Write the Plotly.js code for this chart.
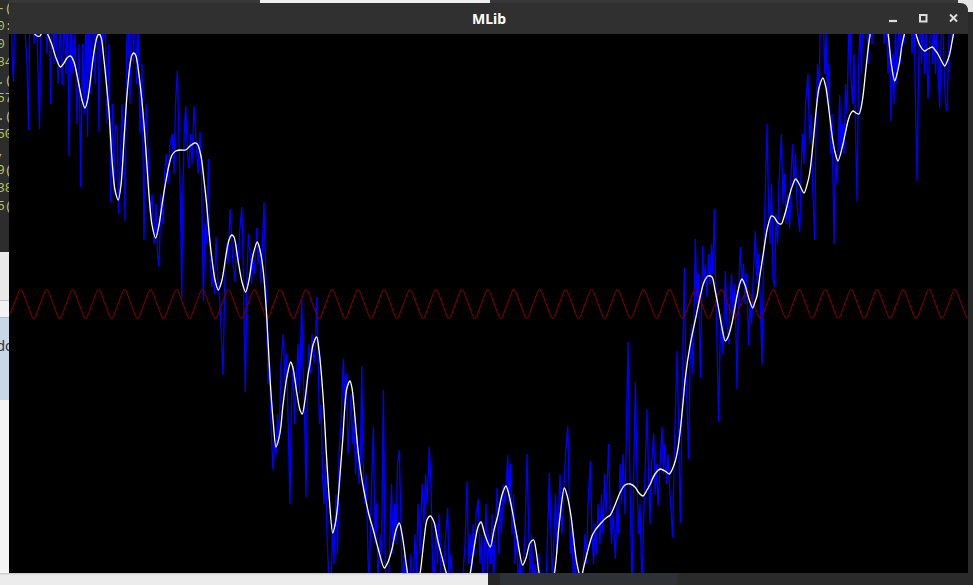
<!DOCTYPE html>
<html><head><meta charset="utf-8">
<script src="https://cdn.plot.ly/plotly-3.0.1.min.js"></script>
<style>html,body{margin:0;padding:0;background:#2a2a2a;overflow:hidden}#chart{width:973px;height:585px}</style>
</head><body><div id="chart"></div>
<script>
// ---- data (sample index, signal value) ----
const whiteX=[9,20,30,34,37,40,43,46,48,52,56,60.5,64,67,70.5,74,78,82,85,88,91,94,97,99,101,104,107,109,112,115,118.3,121,124,127,130,132,134,136,139,142.3,145.7,149,152,155.7,159,162,165.7,169,172,175.7,180,185.7,190,194.5,197.3,201,204,206.7,209,211.7,215,218.3,222,226,229,231.7,234,238,242,245.7,249,253,257.3,260,263.3,266.7,270,273.3,276,280,283,286.7,290.7,293,296.7,300,302.3,305,308,310,313,316.7,319,321.7,324,326,329.3,332.7,335,337.3,340,342.7,346.7,350,352,354,357,359.3,362,365,369,373.3,378,384.3,388,392,396,399.3,403,407.7,412,416,420,424,427,430.3,434,437.7,442,446,452,458,464,470,474,478,481,485,490.3,494,497.7,502,506,509,512.7,517,522.7,526,530,533.7,536,539.3,544,549,554.3,559.3,564.3,567,571,576,579.3,581,584,588.7,592,595.3,602,606,610.3,615,620.3,625,630.3,635,639,643,647,650.3,655,660.3,665,669.3,672,675.3,678,680.3,683,685.3,690.3,695.3,700.3,704,708,712,715,718.7,722,725.3,728,732,737,740,742,745,747,750,752.7,755,757,760,763.7,767,771.3,774,778,781.3,784,786.3,791.3,795.7,799.7,804,807,809.7,813,816.3,819,823,826,828,832.3,835,838,843,848,851,853,856,859,862.3,865.7,868,870.3,874,879,884,888,891.3,894.7,897,899.7,902,904.7,908,912,915.7,919.7,924.7,928,932.3,935,938,941,944.7,947,949.7,952,953.7,958,962,968];
const whiteY=[304,314,284,271,268,268,273,273,269,259,246,237,241,246,248,242,224,204,196,206,229,252,267,270,267,244,214,192,144,114,104,119,164,209,239,249,251,248,229,199,157,109,79,66,79,99,122,139,149,153,154,154,158,161,160,148,124,99,72,47,24,14,24,49,64,69,67,44,22,12,24,49,62,54,33,-12,-74,-119,-143,-129,-101,-74,-58,-64,-88,-106,-110,-96,-71,-60,-41,-33,-46,-74,-106,-143,-195,-229,-221,-205,-171,-136,-85,-77,-84,-102,-136,-157,-176,-192,-211,-226,-244,-264,-258,-245,-226,-219,-236,-270,-286,-286,-270,-236,-216,-212,-218,-236,-253,-268,-286,-294,-286,-270,-244,-223,-218,-231,-243,-226,-212,-191,-182,-191,-209,-233,-261,-254,-239,-236,-246,-270,-286,-286,-270,-219,-184,-191,-212,-254,-270,-274,-262,-243,-232,-226,-218,-214,-211,-201,-188,-181,-180,-183,-189,-192,-186,-180,-170,-165,-167,-170,-166,-157,-144,-126,-99,-74,-40,-16,8,22,28,27,14,-5,-24,-37,-33,-19,8,21,25,19,12,2,-4,2,8,29,53,74,88,87,81,80,87,95,115,125,119,111,119,131,160,195,216,226,216,202,167,152,143,160,183,191,193,191,190,203,233,254,271,294,304,294,271,240,223,230,243,259,271,284,286,271,259,253,255,257,254,250,244,238,242,250,262,271,289,299,304];

const blueSamples=[[9,300],[10.5,330],[12,250],[13.5,222],[15,320],[17,290],[19,330],[21,270],[23,310],[25,280],[27,240],[28.5,174],[30,300],[32,330],[34,260],[36,310],[38,230],[39.5,175],[41,320],[43,280],[45,330],[47,250],[49,300],[50.7,200],[52.5,320],[54,240],[56,300],[58,220],[60,280],[62.3,219],[64,290],[66,230],[67.5,300],[69,148],[71,290],[73,230],[75,270],[77,180],[79,260],[80.7,117],[82.5,260],[84,190],[86,300],[87.5,167],[89,320],[91,210],[93,330],[95,220],[97,320],[99,172],[101,330],[103,250],[105,300],[107,180],[109,260],[110.7,102],[112.5,200],[114,110],[115.5,180],[117.3,172],[118.5,90],[120,150],[122,200],[123.5,160],[125,83],[126.5,250],[128,300],[130,200],[132,320],[133.5,240],[135,330],[136.5,220],[138,280],[140,170],[142,240],[144,64],[146,200],[148.3,147],[150,90],[152,110],[154,60],[156,100],[157.5,50],[159,37],[161,110],[163,80],[164.5,130],[166.3,150],[168,120],[170,160],[172.3,170],[174,130],[175.5,200],[177.3,233],[179,160],[180.5,100],[181.7,5],[183,120],[184.5,180],[185.7,198],[187.5,150],[189,136],[190.5,170],[192,140],[194,198],[196,160],[198,130],[200,172],[201.5,130],[203.3,3],[205,80],[206.5,60],[208.3,145],[210,50],[211.7,17],[213,30],[214.5,10],[216,67],[218,20],[220,0],[221.5,-40],[223,-71],[225,30],[226.5,60],[228,40],[230,95],[231.5,70],[233,40],[235,22],[236.5,60],[238,40],[239.5,70],[241.7,97],[243,50],[245.3,-88],[247,30],[248.5,70],[250,53],[251.5,20],[253,50],[254.5,30],[256.7,76],[258,40],[259.5,60],[261,20],[262.5,60],[264,102],[265.5,40],[266.7,-30],[268,-80],[269.5,-60],[271,-120],[273,-166],[274.5,-140],[276,-150],[277.5,-110],[279,-140],[281,-60],[283.3,-30],[285,-80],[286.5,-50],[288,-110],[290,-200],[291.5,-100],[293,-60],[294.5,-120],[296,-80],[298,-40],[299.5,-90],[301.7,5],[303,-60],[304.5,-110],[306,-193],[307.5,-80],[309,-40],[310.5,-70],[312,-30],[314,-60],[315.5,-40],[316.7,7],[318,-50],[319.5,-120],[321,-100],[322.5,-170],[324,-200],[325.5,-160],[327,-230],[329,-280],[331,-290],[332.5,-220],[334,-260],[336,-190],[337.5,-250],[339,-150],[341,-120],[343.3,-55],[345,-100],[346.5,-70],[348,-150],[349.5,-110],[351,-90],[352.5,-140],[354,-110],[355.5,-170],[357,-130],[359,-180],[360.5,-150],[361.7,-62],[363,-150],[364.5,-200],[366,-170],[367.5,-230],[369,-290],[371,-200],[373.3,-123],[375,-240],[376.5,-200],[378,-280],[380,-230],[381.5,-260],[383.3,-86],[385,-250],[386.5,-290],[388.3,-290],[390,-220],[391.5,-180],
[393,-250],[394.5,-200],[396,-240],[397.5,-160],[399.3,-146],[401,-220],[402.5,-290],[404,-250],[405.5,-290],[407,-260],[409,-290],[411,-250],[413,-290],[415,-230],[416.5,-270],[418,-200],[420,-250],[422,-180],[424,-220],[425.5,-170],[427,-200],[429.3,-143],[431,-180],[432.5,-260],[434,-290],[436,-220],[437.5,-260],[439,-210],[441,-270],[443,-290],[445,-240],[447.7,-204],[449,-280],[451,-250],[453,-290],[455,-270],[457,-290],[459,-280],[461,-300],[463,-270],[465,-240],[467,-178],[468.5,-260],[470,-230],[471.5,-270],[473,-220],[474.5,-250],[476,-210],[478.3,-195],[480,-260],[481.5,-230],[483,-290],[484.5,-240],[486,-200],[487.5,-270],[489,-230],[490.5,-260],[492,-210],[493.5,-280],[495,-230],[497,-184],[498.5,-250],[500,-200],[501.5,-230],[503,-180],[505,-200],[507.7,-151],[509,-200],[510.5,-160],[512,-230],[513.5,-190],[515,-260],[517,-230],[518.5,-290],[520,-250],[521.5,-290],[523,-270],[525,-230],[527,-150],[528.5,-220],[530,-270],[531.5,-230],[533,-290],[535,-260],[537,-290],[539,-250],[541,-290],[543,-270],[545,-300],[547,-250],[549.3,-169],[551,-230],[552.5,-280],[554,-230],[555.5,-190],[557,-250],[558.5,-200],[560,-170],[562,-230],[564,-190],[565.5,-150],[567.7,-122],[569,-180],[570.5,-250],[572,-220],[573.5,-290],[575,-250],[577,-290],[579,-270],[581,-300],
[583,-270],[585,-230],[586.5,-260],[588,-200],[590.3,-157],[592,-230],[593.5,-260],[595,-220],[596.5,-250],[598,-200],[600,-240],[601.5,-190],[603,-230],[604.5,-170],[606,-210],[608.7,-140],[610,-200],[611.5,-240],[613,-210],[615.3,-255],[617,-200],[618.5,-230],[620,-160],[621.5,-200],[623,-150],[625,-210],[626.5,-120],[628,-38],[629.5,-150],[630.5,-200],[632,-290],[633.5,-180],[635.3,-78],[637,-170],[638.5,-230],[640,-200],[642,-290],[643.5,-220],[645,-160],[647,-105],[648.5,-170],[650,-220],[651.5,-160],[653.7,-130],[655,-190],[656.5,-160],[658,-202],[660,-160],[662,-123],[663.5,-170],[665,-140],[666.5,-180],[668,-150],[670,-190],[672.7,-233],[674,-160],[675.5,-110],[677,-47],[678.5,-120],[680.3,-219],[682,-100],[684.3,36],[685.5,-50],[687,-100],[688.7,-155],[690,-60],[691.5,-20],[693,-70],[695.3,65],[697,0],[698.5,30],[700.3,-74],[701.5,10],[702.7,58],[704,20],[705.5,40],[707,7],[708.5,50],[710,20],[711.5,60],[712.8,30],[714.3,95],[715.5,30],[717,-40],[718.7,-118],[720,-40],[721.5,-10],[723,-50],[725.3,33],[727,-20],[728.7,-40],[730,0],[731.5,30],[733,-10],[735,20],[737,-85],[738.5,10],[740.3,57],[742,20],[743.5,40],[745,0],[746.5,30],[748.7,-41],[750,0],[751.5,-20],[753,20],[755.3,73],[757,20],[758.5,50],[760,10],[762,-61],[763.5,40],[765,110],[767,180],[768.5,100],[770,60],[771.5,120],[773,26],
[774.7,17],[776,90],[777.5,60],[779,120],[781.3,170],[783,100],[784.5,130],[786,80],[787.5,110],[789.7,76],[791,130],[792.5,160],[794,120],[795.5,150],[797,100],[799.7,72],[801,130],[802.5,170],[804,140],[805.5,200],[808,230],[809.5,160],[811,190],[812.5,120],[814.7,64],[816,180],[817.5,240],[819,210],[820.5,300],[823,320],[824.5,230],[826,270],[827.5,200],[829,240],[830.5,150],[832,190],[834,60],[835.5,150],[837,120],[839.7,209],[841,150],[842.5,180],[844,150],[845.5,220],[847,190],[849.7,320],[851,230],[852.5,200],[854,250],[855.5,180],[857,103],[858.5,230],[860,280],[861.5,230],[863,300],[864.7,300],[866,320],[868,240],[870,330],[872,260],[874,330],[876,270],[878,330],[880,290],[882,330],[884,260],[886,300],[888,230],[889.5,270],[891,183],[892.5,250],[894,200],[895.5,280],[897,220],[899,300],[900.5,240],[902,320],[904,260],[906,320],[908,270],[910,330],[912,250],[914,300],[915.5,200],[917,123],[918.5,230],[920,300],[921.5,240],[923,290],[924.5,230],[926,280],[928,205],[929.5,260],[931,300],[932.5,240],[934,280],[935.5,230],[937,280],[938.5,220],[939.7,196],[941,260],[942.5,300],[944,240],[945.5,200],[947,193],[948.5,240],[950,300],[951.5,260],[953,320],[955,270],[957,330],[959,280],[961,320],[963,270],[965,330],[968,300]];

// reference tone, sampled every quarter period
const sineY=[-14.5,0,14.5,0,-14.5,0,14.5,0,-14.5,0,14.5,0,-14.5,0,14.5,0,-14.5,0,14.5,0,-14.5,0,14.5,0,-14.5,0,14.5,0,-14.5,0,14.5,0,-14.5,0,14.5,0,-14.5,0,14.5,0,-14.5,0,14.5,0,-14.5,0,14.5,0,-14.5,0,14.5,0,-14.5,0,14.5,0,-14.5,0,14.5,0,-14.5,0,14.5,0,-14.5,0,14.5,0,-14.5,0,14.5,0,-14.5,0,14.5,0,-14.5,0,14.5,0,-14.5,0,14.5,0,-14.5,0,14.5,0,-14.5,0,14.5,0,-14.5,0,14.5,0,-14.5,0,14.5,0,-14.5,0,14.5,0,-14.5,0,14.5,0,-14.5,0,14.5,0,-14.5,0,14.5,0,-14.5,0,14.5,0,-14.5,0,14.5,0,-14.5,0,14.5,0,-14.5,0,14.5,0,-14.5,0,14.5,0,-14.5,0,14.5,0,-14.5,0,14.5,0,-14.5,0,14.5,0,-14.5,0,14.5,0,-14.5];
const sineStart=7.725, sineStep=6.4875;

// background terminal fragments
const termText=["-(","0:","0","84",".(","57",".(","50",",","9(","38","5("];
const termRows=[9,27,45,63,81,99,117,135,153,171,189,207];

// ---- build ----
const W=973,H=585;
const X=px=>px/W, Y=py=>1-py/H;
const blueX=blueSamples.map(p=>p[0]), blueY=blueSamples.map(p=>p[1]);
const sineX=sineY.map((_,i)=>sineStart+i*sineStep);

function rect(x0,y0,x1,y1,color,layer){
  return {type:'rect',xref:'paper',yref:'paper',x0:X(x0),x1:X(x1),y0:Y(y1),y1:Y(y0),
          fillcolor:color,line:{width:0},layer:layer||'below'};
}
function seg(x0,y0,x1,y1,color,w){
  return {type:'line',xref:'paper',yref:'paper',x0:X(x0),y0:Y(y0),x1:X(x1),y1:Y(y1),
          line:{color:color,width:w},layer:'above'};
}
const tb={l:9,r:968,t:3,b:34,rad:8};
const tbPath='M '+X(tb.l)+','+Y(tb.b)+' L '+X(tb.l)+','+Y(tb.t+tb.rad)+
  ' Q '+X(tb.l)+','+Y(tb.t)+' '+X(tb.l+tb.rad)+','+Y(tb.t)+
  ' L '+X(tb.r-tb.rad)+','+Y(tb.t)+' Q '+X(tb.r)+','+Y(tb.t)+' '+X(tb.r)+','+Y(tb.t+tb.rad)+
  ' L '+X(tb.r)+','+Y(tb.b)+' Z';

const shapes=[
  rect(0,0,260,3,'#383838'), rect(260,0,490,3,'#efefef'), rect(490,0,958,3,'#383838'), rect(958,0,973,12,'#e4e4e4'),
  rect(0,0,9,252,'#2d2d2d'),
  rect(0,252,9,300,'#e9e9e9'), rect(0,300,9,301,'#c4c4c4'), rect(0,301,9,317,'#f2f2f2'),
  rect(0,317,9,400,'#c7d7e7'), rect(0,317,9,318,'#a9bccf'), rect(0,400,9,573,'#f4f4f4'),
  rect(0,573,488,585,'#ececec'), rect(0,573,488,574.5,'#cfcfcf'),
  rect(488,573,500,585,'#262626'), rect(500,573,678,585,'#2e3136'), rect(678,573,973,585,'#2a2a2a'),
  {type:'path',xref:'paper',yref:'paper',path:tbPath,fillcolor:'#303030',line:{width:0},layer:'below'},
  rect(9,34,968,573,'#000000'),
  seg(889,21,897,21,'#dedede',2.2),
  {type:'rect',xref:'paper',yref:'paper',x0:X(920),x1:X(926.5),y0:Y(21.5),y1:Y(15),fillcolor:'rgba(0,0,0,0)',line:{color:'#dedede',width:2},layer:'above'},
  seg(950,14.5,957,21.5,'#dedede',2), seg(957,14.5,950,21.5,'#dedede',2)
];

const traces=[
  {x:blueX,y:blueY,type:'scatter',mode:'lines',line:{color:'#0000ff',width:1.3},hoverinfo:'skip'},
  {x:sineX,y:sineY,type:'scatter',mode:'lines',line:{color:'#7a0000',width:1.1,shape:'spline'},hoverinfo:'skip'},
  {x:whiteX,y:whiteY,type:'scatter',mode:'lines',line:{color:'#ffffff',width:1.3,shape:'spline',smoothing:0.8},hoverinfo:'skip'},
  {x:termRows.map(()=>-3),y:termRows,text:termText,type:'scatter',mode:'text',textposition:'middle right',
   textfont:{family:'Liberation Mono',size:13,color:'#b7c060'},xaxis:'x2',yaxis:'y2',cliponaxis:true,hoverinfo:'skip'},
  {x:[-3.5],y:[347],text:['do'],type:'scatter',mode:'text',textposition:'middle right',
   textfont:{family:'Noto Sans',size:14,color:'#333333'},xaxis:'x2',yaxis:'y2',cliponaxis:true,hoverinfo:'skip'}
];

const layout={
  width:W,height:H,autosize:false,margin:{l:0,r:0,t:0,b:0,pad:0},
  paper_bgcolor:'#2a2a2a',plot_bgcolor:'rgba(0,0,0,0)',showlegend:false,
  xaxis:{domain:[X(9),X(968)],range:[9,968],visible:false,fixedrange:true},
  yaxis:{domain:[Y(573),Y(34)],range:[-269,270],visible:false,fixedrange:true},
  xaxis2:{domain:[0,X(9)],range:[0,9],visible:false,anchor:'y2'},
  yaxis2:{domain:[0,1],range:[H,0],visible:false,anchor:'x2'},
  shapes:shapes,
  annotations:[{text:'<b>MLib</b>',xref:'paper',yref:'paper',x:X(488.5),y:Y(18.5),xanchor:'center',yanchor:'middle',
    showarrow:false,font:{family:'Noto Sans',size:14,color:'#ffffff'}}]
};
Plotly.newPlot('chart',traces,layout,{staticPlot:true,displayModeBar:false});
</script></body></html>
